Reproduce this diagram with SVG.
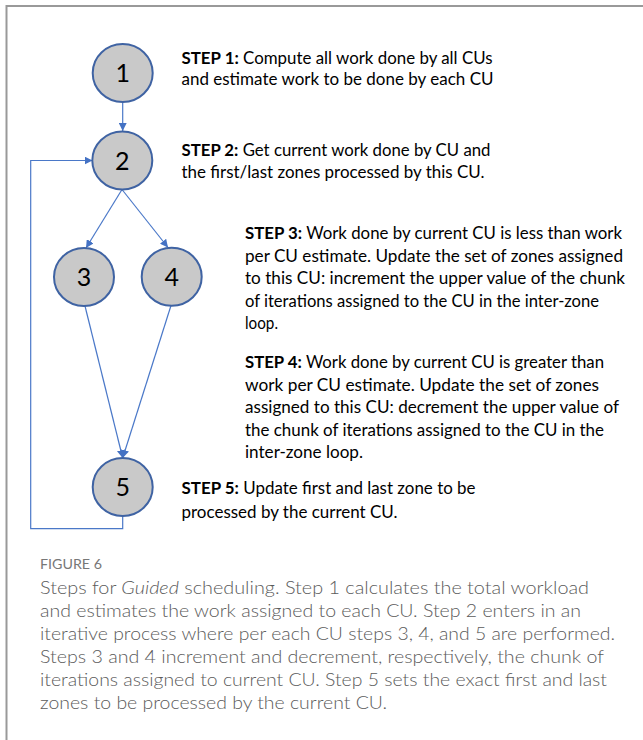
<svg xmlns="http://www.w3.org/2000/svg" width="643" height="740" viewBox="0 0 643 740">
  <style>
    .node ellipse { fill: #c9c9c9; stroke: #3f63a3; stroke-width: 2; }
    .node text { font-family: Lato, "Liberation Sans", sans-serif; font-size: 25px; text-anchor: middle; fill: #000; }
    .step { font-family: Lato, "Liberation Sans", sans-serif; font-size: 17.5px; fill: #000; }
    .step .b { font-weight: 700; }
    .cap { font-family: Lato, "Open Sans", sans-serif; font-weight: 300; font-size: 18px; fill: #5b5b5b; }
    .fig { font-family: Lato, "Open Sans", sans-serif; font-weight: 400; font-size: 14px; fill: #777; }
    .edge { fill: none; stroke: #4a78c8; stroke-width: 1.2; }
    .frame { fill: none; stroke: #999; stroke-width: 2; }
  </style>
  <defs>
    <marker id="arrow" viewBox="0 0 10 10" refX="10" refY="5" markerWidth="8" markerHeight="8" markerUnits="userSpaceOnUse" orient="auto">
      <path d="M0,0 L10,5 L0,10 z" fill="#4472c4"/>
    </marker>
  </defs>

  <rect width="643" height="740" fill="#fff"/>
  <!-- open frame: top and left edges only -->
  <path class="frame" d="M6.5,760 V6 H660"/>

  <!-- connectors -->
  <g id="edges">
    <path class="edge" d="M122.7,102 V131" marker-end="url(#arrow)"/>
    <path class="edge" d="M122,189.5 L86,248" marker-end="url(#arrow)"/>
    <path class="edge" d="M122,189.5 L168,247.5" marker-end="url(#arrow)"/>
    <path class="edge" d="M85,306 L122.7,458" marker-end="url(#arrow)"/>
    <path class="edge" d="M171,305.5 L122.7,458" marker-end="url(#arrow)"/>
    <path class="edge" d="M122.7,516 V528.7 H30.7 V160.5 H92.5" marker-end="url(#arrow)"/>
  </g>

  <!-- nodes -->
  <g id="node1" class="node"><ellipse cx="122.7" cy="73" rx="30" ry="29"/><text x="122.7" y="82">1</text></g>
  <g id="node2" class="node"><ellipse cx="122.3" cy="160.5" rx="30" ry="29"/><text x="122.3" y="169.5">2</text></g>
  <g id="node3" class="node"><ellipse cx="84" cy="277" rx="30" ry="29"/><text x="84" y="286">3</text></g>
  <g id="node4" class="node"><ellipse cx="171.7" cy="276.7" rx="30" ry="29"/><text x="171.7" y="285.7">4</text></g>
  <g id="node5" class="node"><ellipse cx="122.7" cy="487" rx="30" ry="29"/><text x="122.7" y="496">5</text></g>

  <!-- step descriptions -->
  <g id="step1">
    <text class="step" x="181.5" y="63.5" textLength="311" lengthAdjust="spacingAndGlyphs"><tspan class="b">STEP 1:</tspan> Compute all work done by all CUs</text>
    <text class="step" x="181.5" y="85" textLength="312" lengthAdjust="spacingAndGlyphs">and estimate work to be done by each CU</text>
  </g>
  <g id="step2">
    <text class="step" x="181.5" y="156" textLength="309" lengthAdjust="spacingAndGlyphs"><tspan class="b">STEP 2:</tspan> Get current work done by CU and</text>
    <text class="step" x="181.5" y="178" textLength="303" lengthAdjust="spacingAndGlyphs">the first/last zones processed by this CU.</text>
  </g>
  <g id="step3">
    <text class="step" x="245" y="239" textLength="377" lengthAdjust="spacingAndGlyphs"><tspan class="b">STEP 3:</tspan> Work done by current CU is less than work</text>
    <text class="step" x="245" y="261.5" textLength="378" lengthAdjust="spacingAndGlyphs">per CU estimate. Update the set of zones assigned</text>
    <text class="step" x="245" y="284" textLength="380" lengthAdjust="spacingAndGlyphs">to this CU: increment the upper value of the chunk</text>
    <text class="step" x="245" y="306.5" textLength="354" lengthAdjust="spacingAndGlyphs">of iterations assigned to the CU in the inter-zone</text>
    <text class="step" x="245" y="329" textLength="33" lengthAdjust="spacingAndGlyphs">loop.</text>
  </g>
  <g id="step4">
    <text class="step" x="245" y="368" textLength="359" lengthAdjust="spacingAndGlyphs"><tspan class="b">STEP 4:</tspan> Work done by current CU is greater than</text>
    <text class="step" x="245" y="390.5" textLength="354" lengthAdjust="spacingAndGlyphs">work per CU estimate. Update the set of zones</text>
    <text class="step" x="245" y="413" textLength="374" lengthAdjust="spacingAndGlyphs">assigned to this CU: decrement the upper value of</text>
    <text class="step" x="245" y="435.5" textLength="359" lengthAdjust="spacingAndGlyphs">the chunk of iterations assigned to the CU in the</text>
    <text class="step" x="245" y="458" textLength="118" lengthAdjust="spacingAndGlyphs">inter-zone loop.</text>
  </g>
  <g id="step5">
    <text class="step" x="181.5" y="494" textLength="294" lengthAdjust="spacingAndGlyphs"><tspan class="b">STEP 5:</tspan> Update first and last zone to be</text>
    <text class="step" x="181.5" y="517.5" textLength="216" lengthAdjust="spacingAndGlyphs">processed by the current CU.</text>
  </g>

  <!-- caption -->
  <g id="caption">
    <text class="fig" x="40" y="569" textLength="62" lengthAdjust="spacingAndGlyphs">FIGURE 6</text>
    <text class="cap" x="40" y="593.5" textLength="549" lengthAdjust="spacingAndGlyphs">Steps for <tspan font-style="italic">Guided</tspan> scheduling. Step 1 calculates the total workload</text>
    <text class="cap" x="40" y="616.5" textLength="541" lengthAdjust="spacingAndGlyphs">and estimates the work assigned to each CU. Step 2 enters in an</text>
    <text class="cap" x="40" y="639.5" textLength="575" lengthAdjust="spacingAndGlyphs">iterative process where per each CU steps 3, 4, and 5 are performed.</text>
    <text class="cap" x="40" y="662.5" textLength="564" lengthAdjust="spacingAndGlyphs">Steps 3 and 4 increment and decrement, respectively, the chunk of</text>
    <text class="cap" x="40" y="685.5" textLength="567" lengthAdjust="spacingAndGlyphs">iterations assigned to current CU. Step 5 sets the exact first and last</text>
    <text class="cap" x="40" y="708.5" textLength="347" lengthAdjust="spacingAndGlyphs">zones to be processed by the current CU.</text>
  </g>
</svg>
